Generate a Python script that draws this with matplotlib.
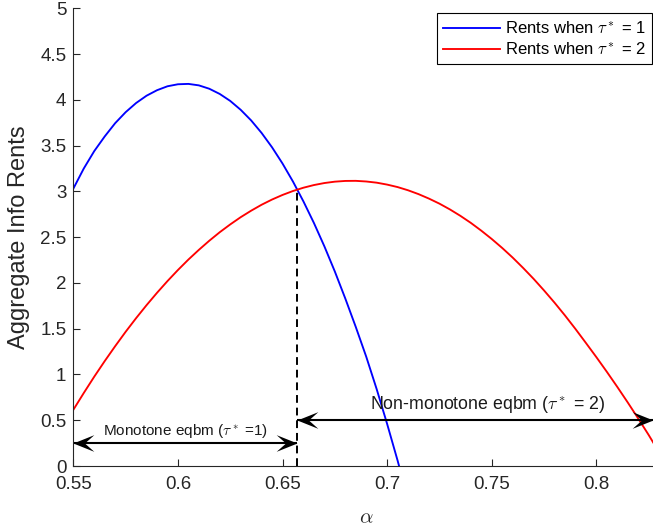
import matplotlib
matplotlib.use("Agg")
import matplotlib.pyplot as plt
from matplotlib.path import Path

plt.rcParams['font.family'] = ['Liberation Sans', 'DejaVu Sans']
plt.rcParams['mathtext.fontset'] = 'cm'

alpha_blue = [0.550, 0.555, 0.560, 0.565, 0.570, 0.575, 0.580, 0.585, 0.590, 0.595,
              0.600, 0.605, 0.610, 0.615, 0.620, 0.625, 0.630, 0.635, 0.640, 0.645,
              0.650, 0.655, 0.660, 0.665, 0.670, 0.675, 0.680, 0.685, 0.690, 0.695,
              0.700, 0.705, 0.710]
rents_blue = [3.03, 3.25, 3.44, 3.60, 3.745, 3.865, 3.965, 4.045, 4.105, 4.148,
              4.170, 4.174, 4.158, 4.121, 4.064, 3.988, 3.891, 3.775, 3.638, 3.481,
              3.304, 3.107, 2.890, 2.655, 2.40, 2.125, 1.83, 1.52, 1.195, 0.84,
              0.46, 0.06, -0.36]

alpha_red = [0.550, 0.555, 0.560, 0.565, 0.570, 0.575, 0.580, 0.585, 0.590, 0.595,
             0.600, 0.605, 0.610, 0.615, 0.620, 0.625, 0.630, 0.635, 0.640, 0.645,
             0.650, 0.655, 0.660, 0.665, 0.670, 0.675, 0.680, 0.685, 0.690, 0.695,
             0.700, 0.705, 0.710, 0.715, 0.720, 0.725, 0.730, 0.735, 0.740, 0.745,
             0.750, 0.755, 0.760, 0.765, 0.770, 0.775, 0.780, 0.785, 0.790, 0.795,
             0.800, 0.805, 0.810, 0.815, 0.820, 0.825, 0.830]
rents_red = [0.614, 0.798, 0.976, 1.146, 1.309, 1.466, 1.615, 1.757, 1.892, 2.020,
             2.141, 2.255, 2.361, 2.461, 2.554, 2.639, 2.718, 2.789, 2.854, 2.911,
             2.961, 3.004, 3.040, 3.069, 3.091, 3.106, 3.114, 3.115, 3.108, 3.095,
             3.074, 3.047, 3.012, 2.970, 2.921, 2.866, 2.803, 2.733, 2.656, 2.571,
             2.480, 2.382, 2.277, 2.164, 2.045, 1.918, 1.785, 1.645, 1.498, 1.345,
             1.19, 1.03, 0.865, 0.695, 0.52, 0.34, 0.15]

cross_x = 0.657
cross_y = 3.01
mono_y = 0.25
nonmono_y = 0.5
nonmono_end = 0.827

xticks = [0.55, 0.6, 0.65, 0.7, 0.75, 0.8]
xticklabels = ['0.55', '0.6', '0.65', '0.7', '0.75', '0.8']
yticks = [0, 0.5, 1, 1.5, 2, 2.5, 3, 3.5, 4, 4.5, 5]
yticklabels = ['0', '0.5', '1', '1.5', '2', '2.5', '3', '3.5', '4', '4.5', '5']

# barbed arrow-head markers (tip at origin)
head_r = Path([(0, 0), (-1, 0.4), (-0.55, 0), (-1, -0.4), (0, 0)],
              [Path.MOVETO, Path.LINETO, Path.LINETO, Path.LINETO, Path.CLOSEPOLY])
head_l = Path([(0, 0), (1, 0.4), (0.55, 0), (1, -0.4), (0, 0)],
              [Path.MOVETO, Path.LINETO, Path.LINETO, Path.LINETO, Path.CLOSEPOLY])

fig = plt.figure(figsize=(6.53, 5.31), dpi=100)
ax = fig.add_axes([0.1123, 0.1224, 0.897, 0.862])

ax.plot(alpha_blue, rents_blue, color=(0, 0, 1), lw=1.35, label=r'Rents when $\tau^*$ = 1')
ax.plot(alpha_red, rents_red, color=(1, 0, 0), lw=1.35, label=r'Rents when $\tau^*$ = 2')
ax.plot([cross_x, cross_x], [0, cross_y], color='black', lw=1.4, ls=(0, (4, 2.5)))

def double_arrow(x0, x1, y):
    ax.plot([x0, x1], [y, y], color='black', lw=1.5, solid_capstyle='butt', clip_on=False)
    ax.plot([x0], [y], marker=head_l, ms=30, color='black', mew=0, clip_on=False)
    ax.plot([x1], [y], marker=head_r, ms=30, color='black', mew=0, clip_on=False)

double_arrow(0.55, cross_x, mono_y)
double_arrow(cross_x, nonmono_end, nonmono_y)

ax.text(0.6035, 0.386, r'Monotone eqbm ($\tau^*$ =1)', ha='center', va='center',
        fontsize=11, color='#1a1a1a')
ax.text(0.748, 0.677, r'Non-monotone eqbm ($\tau^*$ = 2)', ha='center', va='center',
        fontsize=12.8, color='#1a1a1a')

ax.set_xlim(0.55, 0.83)
ax.set_ylim(0, 5)
ax.set_xticks(xticks)
ax.set_xticklabels(xticklabels)
ax.set_yticks(yticks)
ax.set_yticklabels(yticklabels)
ax.tick_params(axis='x', direction='in', length=5, width=0.8, colors='#262626',
               labelsize=13.5, labelcolor='#262626', pad=7)
ax.tick_params(axis='y', direction='in', length=5, width=0.8, colors='#262626',
               labelsize=13.5, labelcolor='#262626', pad=5)
for s in ['top', 'right']:
    ax.spines[s].set_visible(False)
for s in ['left', 'bottom']:
    ax.spines[s].set_color('#262626')
    ax.spines[s].set_linewidth(0.8)

ax.set_xlabel(r'$\alpha$', fontsize=15, color='#262626', labelpad=11)
ax.set_ylabel('Aggregate Info Rents', fontsize=17, color='#262626', labelpad=7)

leg = ax.legend(loc='upper left', bbox_to_anchor=(436.7 / 653, 1 - 13.3 / 531),
                bbox_transform=fig.transFigure, fontsize=12, handlelength=3.4,
                frameon=True, fancybox=False, framealpha=1, borderpad=0.38,
                labelspacing=0.28, handletextpad=0.3, borderaxespad=0)
leg.get_frame().set_edgecolor('black')
leg.get_frame().set_linewidth(0.8)

fig.savefig('out.png', dpi=100)
